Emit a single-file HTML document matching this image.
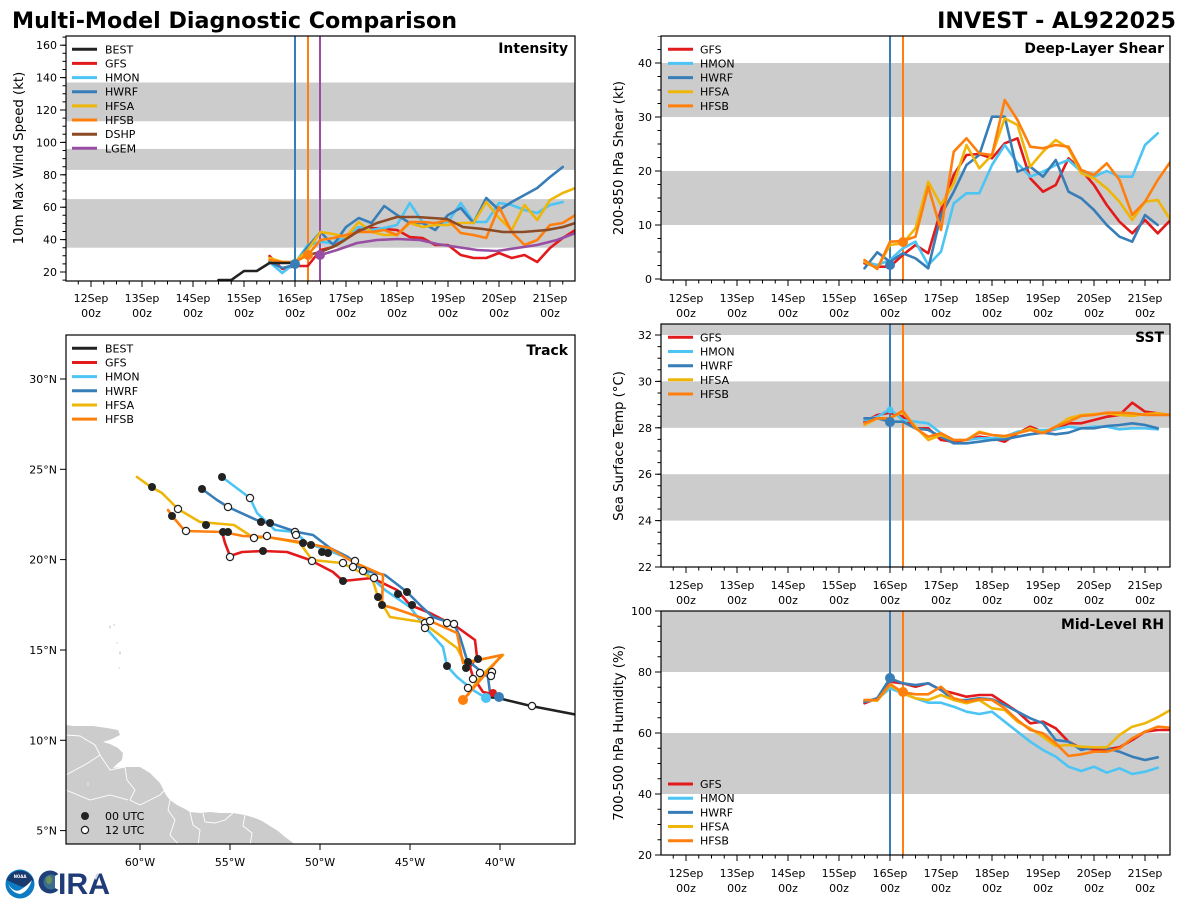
<!DOCTYPE html>
<html><head><meta charset="utf-8"><style>
html,body{margin:0;padding:0;background:#fff;}
svg{display:block;font-family:"DejaVu Sans","Liberation Sans",sans-serif;}
.tl{font-size:11px;fill:#000;}
.lg{font-size:11px;fill:#000;}
.yl{font-size:13.3px;fill:#000;}
.pt{font-size:13.9px;font-weight:bold;fill:#000;}
.s{fill:none;stroke-width:2.6;stroke-linejoin:round;stroke-linecap:round;}
</style></head><body>
<svg width="1200" height="900" viewBox="0 0 1200 900" xmlns="http://www.w3.org/2000/svg">
<defs>
<clipPath id="c1"><rect x="66" y="36" width="509" height="245"/></clipPath>
<clipPath id="c2"><rect x="661" y="36" width="509" height="244"/></clipPath>
<clipPath id="c3"><rect x="66" y="335" width="509" height="509"/></clipPath>
<clipPath id="c4"><rect x="661" y="324" width="509" height="243"/></clipPath>
<clipPath id="c5"><rect x="661" y="611" width="509" height="244"/></clipPath>
</defs>
<rect width="1200" height="900" fill="#fff"/>

<!-- Titles -->
<text x="12" y="28" style="font-size:22.2px;font-weight:bold">Multi-Model Diagnostic Comparison</text>
<text x="1176" y="28" text-anchor="end" style="font-size:22.2px;font-weight:bold">INVEST - AL922025</text>

<!-- ============ INTENSITY PANEL ============ -->
<g>
<rect x="66" y="199.1" width="509" height="48.6" fill="#cccccc"/>
<rect x="66" y="148.9" width="509" height="21" fill="#cccccc"/>
<rect x="66" y="82.5" width="509" height="38.8" fill="#cccccc"/>
<g clip-path="url(#c1)">
<line x1="295" y1="36" x2="295" y2="281" stroke="#377eb8" stroke-width="2"/>
<line x1="308" y1="36" x2="308" y2="281" stroke="#ff7f0e" stroke-width="2"/>
<line x1="320" y1="36" x2="320" y2="281" stroke="#984ea3" stroke-width="2"/>
<polyline class="s" stroke="#e31a1c" points="269.5,256 282.25,269 295,266 307.75,266 320.5,250 333.25,247 346,238 358.75,230 371.5,228 384.25,229 397,230 409.75,237 422.5,238 435.25,245 448,245 460.75,255 473.5,258 486.25,258 499,253 511.75,258 524.5,255 537.25,262 550,248 562.75,238 575.5,230"/>
<polyline class="s" stroke="#4cc4f4" points="269.5,262 282.25,273 295,263 307.75,245 320.5,242 333.25,243 346,237 358.75,227 371.5,230 384.25,228 397,225 409.75,203 422.5,222 435.25,223 448,222 460.75,203 473.5,222 486.25,222 499,203 511.75,205 524.5,210 537.25,213 550,205 562.75,202"/>
<polyline class="s" stroke="#377eb8" points="269.5,262 282.25,268 295,265 307.75,247 320.5,232 333.25,245 346,227 358.75,218 371.5,223 384.25,206 397,215 409.75,223 422.5,223 435.25,230 448,215 460.75,208 473.5,223 486.25,198 499,210 511.75,202 524.5,195 537.25,188 550,177 562.75,167"/>
<polyline class="s" stroke="#efb508" points="269.5,258 282.25,262 295,262 307.75,250 320.5,232 333.25,234 346,237 358.75,222 371.5,232 384.25,235 397,235 409.75,223 422.5,227 435.25,225 448,225 460.75,223 473.5,223 486.25,202 499,218 511.75,230 524.5,205 537.25,220 550,200 562.75,193 575.5,188"/>
<polyline class="s" stroke="#ff7f0e" points="269.5,260 282.25,262 295,262 307.75,255 320.5,240 333.25,238 346,235 358.75,232 371.5,232 384.25,230 397,235 409.75,222 422.5,222 435.25,223 448,220 460.75,233 473.5,235 486.25,238 499,207 511.75,232 524.5,245 537.25,240 550,225 562.75,223 575.5,215"/>
<polyline class="s" stroke="#8c4a25" points="307.75,255 320.5,252 337,245 357,232 377,223 397,217 417,217 447,219 463,227 483,229 503,232 523,232 547,230 563,227 575.5,223"/>
<polyline class="s" stroke="#984ea3" points="320.5,255 337,250 357,243 377,240 397,239 420,240 437,244 457,247 477,250 497,251 517,248 537,245 557,240 575.5,233"/>
<polyline class="s" stroke="#222" points="218.5,280 231.25,280 244,271 256.75,271 269.5,263 282.25,263 295,263"/>
<circle cx="295" cy="264" r="5" fill="#377eb8"/>
<circle cx="308" cy="255" r="5" fill="#ff7f0e"/>
<circle cx="320" cy="255" r="5" fill="#984ea3"/>
</g>
<!-- ticks -->
<line x1="64.25" y1="280.6" x2="64.25" y2="36" stroke="#000" stroke-width="3.5" stroke-dasharray="1 7.1"/>
<line x1="77.75" y1="282.75" x2="575" y2="282.75" stroke="#000" stroke-width="3.5" stroke-dasharray="1 11.75"/>
<g stroke="#000" stroke-width="1">
<line x1="60" y1="272" x2="66" y2="272"/><line x1="60" y1="239.6" x2="66" y2="239.6"/><line x1="60" y1="207.2" x2="66" y2="207.2"/><line x1="60" y1="174.8" x2="66" y2="174.8"/><line x1="60" y1="142.4" x2="66" y2="142.4"/><line x1="60" y1="110" x2="66" y2="110"/><line x1="60" y1="77.6" x2="66" y2="77.6"/><line x1="60" y1="45.2" x2="66" y2="45.2"/>
<line x1="91" y1="281" x2="91" y2="287"/><line x1="142" y1="281" x2="142" y2="287"/><line x1="193" y1="281" x2="193" y2="287"/><line x1="244" y1="281" x2="244" y2="287"/><line x1="295" y1="281" x2="295" y2="287"/><line x1="346" y1="281" x2="346" y2="287"/><line x1="397" y1="281" x2="397" y2="287"/><line x1="448" y1="281" x2="448" y2="287"/><line x1="499" y1="281" x2="499" y2="287"/><line x1="550" y1="281" x2="550" y2="287"/>
</g>
<g class="tl" text-anchor="end">
<text x="57" y="276">20</text><text x="57" y="243.6">40</text><text x="57" y="211.2">60</text><text x="57" y="178.8">80</text><text x="57" y="146.4">100</text><text x="57" y="114">120</text><text x="57" y="81.6">140</text><text x="57" y="49.2">160</text>
</g>
<g class="tl" text-anchor="middle">
<text x="91" y="302">12Sep</text><text x="142" y="302">13Sep</text><text x="193" y="302">14Sep</text><text x="244" y="302">15Sep</text><text x="295" y="302">16Sep</text><text x="346" y="302">17Sep</text><text x="397" y="302">18Sep</text><text x="448" y="302">19Sep</text><text x="499" y="302">20Sep</text><text x="550" y="302">21Sep</text>
<text x="91" y="317">00z</text><text x="142" y="317">00z</text><text x="193" y="317">00z</text><text x="244" y="317">00z</text><text x="295" y="317">00z</text><text x="346" y="317">00z</text><text x="397" y="317">00z</text><text x="448" y="317">00z</text><text x="499" y="317">00z</text><text x="550" y="317">00z</text>
</g>
<text class="yl" transform="translate(23,158) rotate(-90)" text-anchor="middle">10m Max Wind Speed (kt)</text>
<text class="pt" x="568" y="53" text-anchor="end">Intensity</text>
<!-- legend -->
<g stroke-width="3">
<line x1="72" y1="49.3" x2="97" y2="49.3" stroke="#222"/>
<line x1="72" y1="63.4" x2="97" y2="63.4" stroke="#e31a1c"/>
<line x1="72" y1="77.6" x2="97" y2="77.6" stroke="#4cc4f4"/>
<line x1="72" y1="91.7" x2="97" y2="91.7" stroke="#377eb8"/>
<line x1="72" y1="105.9" x2="97" y2="105.9" stroke="#efb508"/>
<line x1="72" y1="120" x2="97" y2="120" stroke="#ff7f0e"/>
<line x1="72" y1="134.2" x2="97" y2="134.2" stroke="#8c4a25"/>
<line x1="72" y1="148.3" x2="97" y2="148.3" stroke="#984ea3"/>
</g>
<g class="lg">
<text x="105" y="53.3">BEST</text><text x="105" y="67.4">GFS</text><text x="105" y="81.6">HMON</text><text x="105" y="95.7">HWRF</text><text x="105" y="109.9">HFSA</text><text x="105" y="124">HFSB</text><text x="105" y="138.2">DSHP</text><text x="105" y="152.3">LGEM</text>
</g>
<rect x="66" y="36" width="509" height="245" fill="none" stroke="#000" stroke-width="1.2"/>
</g>

<!-- ============ SHEAR PANEL ============ -->
<g>
<rect x="661" y="171" width="509" height="54" fill="#cccccc"/>
<rect x="661" y="63" width="509" height="54" fill="#cccccc"/>
<g clip-path="url(#c2)">
<line x1="890" y1="36" x2="890" y2="280" stroke="#377eb8" stroke-width="2"/>
<line x1="903" y1="36" x2="903" y2="280" stroke="#ff7f0e" stroke-width="2"/>
<polyline class="s" stroke="#e31a1c" points="864.5,263.3 877.25,266.7 890,266.7 902.75,255 915.5,245 928.25,253.3 941,210 953.75,175 966.5,155 979.25,154 992,158.3 1004.75,143.3 1017.5,138.3 1030.25,178.3 1043,191.7 1055.75,185 1068.5,158.3 1081.25,170 1094,185 1106.75,205 1119.5,221.7 1132.25,233.3 1145,220 1157.75,233.3 1170.5,220"/>
<polyline class="s" stroke="#4cc4f4" points="864.5,261.7 877.25,265 890,260 902.75,248.3 915.5,241.7 928.25,265 941,251.7 953.75,203.3 966.5,193.3 979.25,193.3 992,165 1004.75,145 1017.5,163.3 1030.25,176.7 1043,171.7 1055.75,165 1068.5,160 1081.25,171.7 1094,176.7 1106.75,171 1119.5,176.7 1132.25,176.7 1145,145 1157.75,133.3"/>
<polyline class="s" stroke="#377eb8" points="864.5,268.3 877.25,252.3 890,261.7 902.75,253.3 915.5,258.3 928.25,268.3 941,215 953.75,191.7 966.5,165 979.25,155 992,116.7 1004.75,116.7 1017.5,171.7 1030.25,166.7 1043,176.7 1055.75,160 1068.5,191.7 1081.25,198.3 1094,210 1106.75,225 1119.5,236.7 1132.25,241.7 1145,215 1157.75,225"/>
<polyline class="s" stroke="#efb508" points="864.5,261.7 877.25,268.3 890,245 902.75,243.3 915.5,228.3 928.25,181.7 941,205 953.75,183.3 966.5,145 979.25,168.3 992,155 1004.75,118.3 1017.5,125 1030.25,166.7 1043,151.7 1055.75,140 1068.5,148.3 1081.25,173.3 1094,178.3 1106.75,188.3 1119.5,201.7 1132.25,220 1145,201.7 1157.75,200 1170.5,220"/>
<polyline class="s" stroke="#ff7f0e" points="864.5,260 877.25,269 890,241.7 902.75,241 915.5,236.7 928.25,186.7 941,230 953.75,151.7 966.5,138.3 979.25,153.3 992,155 1004.75,100 1017.5,120 1030.25,146.7 1043,148.3 1055.75,145 1068.5,146.7 1081.25,170 1094,175 1106.75,163.3 1119.5,180 1132.25,215 1145,201.7 1157.75,180 1170.5,161.7"/>
<circle cx="890" cy="265" r="5" fill="#377eb8"/>
<circle cx="903" cy="242" r="5" fill="#ff7f0e"/>
</g>
<line x1="659.25" y1="279.5" x2="659.25" y2="36" stroke="#000" stroke-width="3.5" stroke-dasharray="1 12.5"/>
<line x1="672.75" y1="281.75" x2="1170" y2="281.75" stroke="#000" stroke-width="3.5" stroke-dasharray="1 11.75"/>
<g stroke="#000" stroke-width="1">
<line x1="655" y1="279" x2="661" y2="279"/><line x1="655" y1="225" x2="661" y2="225"/><line x1="655" y1="171" x2="661" y2="171"/><line x1="655" y1="117" x2="661" y2="117"/><line x1="655" y1="63" x2="661" y2="63"/>
<line x1="686" y1="280" x2="686" y2="286"/><line x1="737" y1="280" x2="737" y2="286"/><line x1="788" y1="280" x2="788" y2="286"/><line x1="839" y1="280" x2="839" y2="286"/><line x1="890" y1="280" x2="890" y2="286"/><line x1="941" y1="280" x2="941" y2="286"/><line x1="992" y1="280" x2="992" y2="286"/><line x1="1043" y1="280" x2="1043" y2="286"/><line x1="1094" y1="280" x2="1094" y2="286"/><line x1="1145" y1="280" x2="1145" y2="286"/>
</g>
<g class="tl" text-anchor="end">
<text x="652" y="283">0</text><text x="652" y="229">10</text><text x="652" y="175">20</text><text x="652" y="121">30</text><text x="652" y="67">40</text>
</g>
<g class="tl" text-anchor="middle">
<text x="686" y="302">12Sep</text><text x="737" y="302">13Sep</text><text x="788" y="302">14Sep</text><text x="839" y="302">15Sep</text><text x="890" y="302">16Sep</text><text x="941" y="302">17Sep</text><text x="992" y="302">18Sep</text><text x="1043" y="302">19Sep</text><text x="1094" y="302">20Sep</text><text x="1145" y="302">21Sep</text>
<text x="686" y="317">00z</text><text x="737" y="317">00z</text><text x="788" y="317">00z</text><text x="839" y="317">00z</text><text x="890" y="317">00z</text><text x="941" y="317">00z</text><text x="992" y="317">00z</text><text x="1043" y="317">00z</text><text x="1094" y="317">00z</text><text x="1145" y="317">00z</text>
</g>
<text class="yl" transform="translate(623,158) rotate(-90)" text-anchor="middle">200-850 hPa Shear (kt)</text>
<text class="pt" x="1164" y="53" text-anchor="end">Deep-Layer Shear</text>
<g stroke-width="3">
<line x1="668" y1="49.3" x2="693" y2="49.3" stroke="#e31a1c"/>
<line x1="668" y1="63.4" x2="693" y2="63.4" stroke="#4cc4f4"/>
<line x1="668" y1="77.6" x2="693" y2="77.6" stroke="#377eb8"/>
<line x1="668" y1="91.7" x2="693" y2="91.7" stroke="#efb508"/>
<line x1="668" y1="105.9" x2="693" y2="105.9" stroke="#ff7f0e"/>
</g>
<g class="lg">
<text x="700" y="53.3">GFS</text><text x="700" y="67.4">HMON</text><text x="700" y="81.6">HWRF</text><text x="700" y="95.7">HFSA</text><text x="700" y="109.9">HFSB</text>
</g>
<rect x="661" y="36" width="509" height="244" fill="none" stroke="#000" stroke-width="1.2"/>
</g>

<!-- ============ TRACK PANEL ============ -->
<g>
<g clip-path="url(#c3)">
<polygon fill="#cccccc" points="66,725 73,726 80,726 93,726 100,727 107,728 118,730 120,735 112,739 103,742 110,744 118,748 123,753 122,760 116,765 113,768 125,767 140,767 145,770 150,773 155,778 160,783 163,789 166,795 170,800 177,805 185,809 190,812 200,813 210,812 220,813 233,813 245,815 255,818 262,821 270,826 278,831 285,837 292,842 296,846 66,846"/>
<g fill="none" stroke="#fff" stroke-width="0.9">
<polyline points="66,735 80,736 95,745 100,755 88,763 66,775"/>
<polyline points="125,767 127,780 135,790 130,800 140,805 150,800 160,795 165,790"/>
<polyline points="170,800 168,810 175,820 170,835 180,846"/>
<polyline points="190,812 193,825 200,830 198,846"/>
<polyline points="203,813 205,822 215,823 225,820 233,813"/>
<polyline points="245,815 243,826 252,833 250,846"/>
<polyline points="100,755 110,770 125,767"/>
<polyline points="66,790 90,800 110,795 128,800"/>
</g>
<g fill="#dcdcdc">
<ellipse cx="110" cy="627" rx="1" ry="1.6"/><ellipse cx="114" cy="625" rx="0.8" ry="1.2"/>
<ellipse cx="120" cy="653" rx="1" ry="1.8"/><ellipse cx="117" cy="643" rx="0.7" ry="1"/>
<ellipse cx="119" cy="668" rx="0.7" ry="1"/>
<ellipse cx="88" cy="784" rx="1.2" ry="2"/>
</g>
<!-- tracks -->
<polyline class="s" stroke="#e31a1c" points="222,532 225,543 230,556 242,552 263,551 287,552 310,560 333,572 343,581 372,578 397,590 410,605 430,613 457,627 475,640 477,657 470,667 473,677 483,692 497,695"/>
<polyline class="s" stroke="#4cc4f4" points="222,477 250,498 257,513 275,530 295,532 307,543 327,550 353,560 372,578 385,590 410,607 425,627 443,647 447,666 457,677 473,690 486,698"/>
<polyline class="s" stroke="#377eb8" points="202,489 217,500 228,507 261,522 270,523 297,532 313,535 330,548 348,557 362,570 385,575 407,592 423,608 433,617 454,624 460,637 467,660 488,677 490,693 499,697"/>
<polyline class="s" stroke="#efb508" points="137,477 151,487 162,493 178,509 200,522 234,525 254,538 267,537 300,543 312,560 342,563 372,578 378,597 390,617 422,622 457,648 465,663 503,655 480,677 468,695"/>
<polyline class="s" stroke="#ff7f0e" points="168,510 173,517 185,531 223,532 243,536 267,537 300,542 330,548 353,562 383,575 382,605 393,608 428,620 457,633 463,663 502,655 463,700"/>
<polyline class="s" stroke="#222" points="578,715 531,706 498,698 486,697"/>
<!-- 00 UTC dots -->
<g fill="#222">
<circle cx="152" cy="487" r="4"/><circle cx="202" cy="489" r="4"/><circle cx="222" cy="477" r="4"/><circle cx="172" cy="516" r="4"/><circle cx="206" cy="525" r="4"/><circle cx="261" cy="522" r="4"/><circle cx="270" cy="523" r="4"/><circle cx="223" cy="532" r="4"/><circle cx="228" cy="532" r="4"/><circle cx="263" cy="551" r="4"/><circle cx="303" cy="543" r="4"/><circle cx="311" cy="545" r="4"/><circle cx="322" cy="552" r="4"/><circle cx="328" cy="553" r="4"/><circle cx="343" cy="581" r="4"/><circle cx="378" cy="597" r="4"/><circle cx="382" cy="605" r="4"/><circle cx="398" cy="594" r="4"/><circle cx="407" cy="592" r="4"/><circle cx="412" cy="605" r="4"/><circle cx="447" cy="666" r="4"/><circle cx="466" cy="668" r="4"/><circle cx="468" cy="662" r="4"/><circle cx="478" cy="659" r="4"/>
</g>
<!-- 12 UTC circles -->
<g fill="#fff" stroke="#222" stroke-width="1.2">
<circle cx="178" cy="509" r="3.6"/><circle cx="186" cy="531" r="3.6"/><circle cx="228" cy="507" r="3.6"/><circle cx="250" cy="498" r="3.6"/><circle cx="230" cy="557" r="3.6"/><circle cx="254" cy="538" r="3.6"/><circle cx="267" cy="536" r="3.6"/><circle cx="295" cy="532" r="3.6"/><circle cx="296" cy="535" r="3.6"/><circle cx="312" cy="561" r="3.6"/><circle cx="343" cy="563" r="3.6"/><circle cx="355" cy="561" r="3.6"/><circle cx="353" cy="567" r="3.6"/><circle cx="363" cy="571" r="3.6"/><circle cx="374" cy="578" r="3.6"/><circle cx="425" cy="623" r="3.6"/><circle cx="430" cy="621" r="3.6"/><circle cx="425" cy="628" r="3.6"/><circle cx="447" cy="623" r="3.6"/><circle cx="454" cy="624" r="3.6"/><circle cx="468" cy="688" r="3.6"/><circle cx="473" cy="679" r="3.6"/><circle cx="480" cy="673" r="3.6"/><circle cx="492" cy="672" r="3.6"/><circle cx="491" cy="676" r="3.6"/><circle cx="532" cy="706" r="3.6"/>
</g>
<circle cx="493" cy="693" r="4" fill="#e31a1c"/>
<circle cx="463" cy="700" r="5" fill="#ff7f0e"/>
<circle cx="486" cy="698" r="5" fill="#4cc4f4"/>
<circle cx="499" cy="697" r="5" fill="#377eb8"/>
</g>
<!-- axes ticks -->
<g stroke="#000" stroke-width="1">
<line x1="60" y1="379" x2="66" y2="379"/><line x1="60" y1="469.3" x2="66" y2="469.3"/><line x1="60" y1="559.6" x2="66" y2="559.6"/><line x1="60" y1="650" x2="66" y2="650"/><line x1="60" y1="740.3" x2="66" y2="740.3"/><line x1="60" y1="830.6" x2="66" y2="830.6"/>
<line x1="140" y1="844" x2="140" y2="850"/><line x1="230" y1="844" x2="230" y2="850"/><line x1="320" y1="844" x2="320" y2="850"/><line x1="410" y1="844" x2="410" y2="850"/><line x1="500" y1="844" x2="500" y2="850"/>
</g>
<g class="tl" text-anchor="end">
<text x="57" y="383">30°N</text><text x="57" y="473.3">25°N</text><text x="57" y="563.6">20°N</text><text x="57" y="654">15°N</text><text x="57" y="744.3">10°N</text><text x="57" y="834.6">5°N</text>
</g>
<g class="tl" text-anchor="middle">
<text x="140" y="866">60°W</text><text x="230" y="866">55°W</text><text x="320" y="866">50°W</text><text x="410" y="866">45°W</text><text x="500" y="866">40°W</text>
</g>
<text class="pt" x="568" y="355" text-anchor="end">Track</text>
<g stroke-width="3">
<line x1="72" y1="348.3" x2="97" y2="348.3" stroke="#222"/>
<line x1="72" y1="362.5" x2="97" y2="362.5" stroke="#e31a1c"/>
<line x1="72" y1="376.6" x2="97" y2="376.6" stroke="#4cc4f4"/>
<line x1="72" y1="390.8" x2="97" y2="390.8" stroke="#377eb8"/>
<line x1="72" y1="405" x2="97" y2="405" stroke="#efb508"/>
<line x1="72" y1="419.1" x2="97" y2="419.1" stroke="#ff7f0e"/>
</g>
<g class="lg">
<text x="105" y="352.3">BEST</text><text x="105" y="366.5">GFS</text><text x="105" y="380.6">HMON</text><text x="105" y="394.8">HWRF</text><text x="105" y="409">HFSA</text><text x="105" y="423.1">HFSB</text>
</g>
<circle cx="85" cy="816" r="4" fill="#222"/>
<circle cx="85" cy="830" r="3.6" fill="#fff" stroke="#222" stroke-width="1.2"/>
<g class="lg"><text x="105" y="820">00 UTC</text><text x="105" y="834">12 UTC</text></g>
<rect x="66" y="335" width="509" height="509" fill="none" stroke="#000" stroke-width="1.2"/>
</g>

<!-- ============ SST PANEL ============ -->
<g>
<rect x="661" y="474.2" width="509" height="46.4" fill="#cccccc"/>
<rect x="661" y="381.4" width="509" height="46.4" fill="#cccccc"/>
<rect x="661" y="324" width="509" height="11" fill="#cccccc"/>
<g clip-path="url(#c4)">
<line x1="890" y1="324" x2="890" y2="567" stroke="#377eb8" stroke-width="2"/>
<line x1="903" y1="324" x2="903" y2="567" stroke="#ff7f0e" stroke-width="2"/>
<polyline class="s" stroke="#e31a1c" points="864.5,421.7 877.25,415 890,412.7 902.75,416.7 915.5,428.3 928.25,428.3 941,440 953.75,441.7 966.5,440 979.25,436.7 992,438.3 1004.75,441.7 1017.5,433.3 1030.25,426.7 1043,431.7 1055.75,429.3 1068.5,423.3 1081.25,423.3 1094,420 1106.75,416.7 1119.5,415 1132.25,402.7 1145,411.7 1157.75,413.3 1170.5,415"/>
<polyline class="s" stroke="#4cc4f4" points="864.5,420 877.25,416.7 890,409.3 902.75,420 915.5,421.7 928.25,423.3 941,433.3 953.75,440 966.5,440 979.25,438.3 992,438.3 1004.75,436.7 1017.5,431.7 1030.25,430 1043,430 1055.75,429.3 1068.5,426.7 1081.25,428.3 1094,426.7 1106.75,426.7 1119.5,429.3 1132.25,428.3 1145,428.3 1157.75,429.3"/>
<polyline class="s" stroke="#377eb8" points="864.5,418.3 877.25,418.3 890,421.7 902.75,421.7 915.5,428.3 928.25,430 941,436.7 953.75,443.3 966.5,443.3 979.25,441.7 992,440 1004.75,439.3 1017.5,436.7 1030.25,434.3 1043,432.7 1055.75,434.3 1068.5,432.7 1081.25,428.3 1094,428.3 1106.75,426 1119.5,425 1132.25,423.3 1145,425 1157.75,428.3"/>
<polyline class="s" stroke="#efb508" points="864.5,425 877.25,418.3 890,418.3 902.75,411.7 915.5,426.7 928.25,440 941,435 953.75,440 966.5,440 979.25,431.7 992,435 1004.75,436.7 1017.5,433.3 1030.25,428.3 1043,432.7 1055.75,426.7 1068.5,418.3 1081.25,415 1094,414 1106.75,413.3 1119.5,415 1132.25,416 1145,414 1157.75,413.3 1170.5,415"/>
<polyline class="s" stroke="#ff7f0e" points="864.5,423.3 877.25,418.3 890,418.3 902.75,410.7 915.5,428.3 928.25,436.7 941,433.3 953.75,440 966.5,440 979.25,432.7 992,435 1004.75,436 1017.5,433.3 1030.25,430 1043,433.3 1055.75,426.7 1068.5,421.7 1081.25,416 1094,415 1106.75,412.7 1119.5,412.7 1132.25,413.3 1145,415 1157.75,415 1170.5,415"/>
<circle cx="890" cy="410" r="3.5" fill="#4cc4f4"/>
<circle cx="890" cy="422" r="5" fill="#377eb8"/>
</g>
<line x1="659.25" y1="567.5" x2="659.25" y2="324" stroke="#000" stroke-width="3.5" stroke-dasharray="1 10.6"/>
<line x1="672.75" y1="568.75" x2="1170" y2="568.75" stroke="#000" stroke-width="3.5" stroke-dasharray="1 11.75"/>
<g stroke="#000" stroke-width="1">
<line x1="655" y1="567" x2="661" y2="567"/><line x1="655" y1="520.6" x2="661" y2="520.6"/><line x1="655" y1="474.2" x2="661" y2="474.2"/><line x1="655" y1="427.8" x2="661" y2="427.8"/><line x1="655" y1="381.4" x2="661" y2="381.4"/><line x1="655" y1="335" x2="661" y2="335"/>
<line x1="686" y1="567" x2="686" y2="573"/><line x1="737" y1="567" x2="737" y2="573"/><line x1="788" y1="567" x2="788" y2="573"/><line x1="839" y1="567" x2="839" y2="573"/><line x1="890" y1="567" x2="890" y2="573"/><line x1="941" y1="567" x2="941" y2="573"/><line x1="992" y1="567" x2="992" y2="573"/><line x1="1043" y1="567" x2="1043" y2="573"/><line x1="1094" y1="567" x2="1094" y2="573"/><line x1="1145" y1="567" x2="1145" y2="573"/>
</g>
<g class="tl" text-anchor="end">
<text x="652" y="571">22</text><text x="652" y="524.6">24</text><text x="652" y="478.2">26</text><text x="652" y="431.8">28</text><text x="652" y="385.4">30</text><text x="652" y="339">32</text>
</g>
<g class="tl" text-anchor="middle">
<text x="686" y="589">12Sep</text><text x="737" y="589">13Sep</text><text x="788" y="589">14Sep</text><text x="839" y="589">15Sep</text><text x="890" y="589">16Sep</text><text x="941" y="589">17Sep</text><text x="992" y="589">18Sep</text><text x="1043" y="589">19Sep</text><text x="1094" y="589">20Sep</text><text x="1145" y="589">21Sep</text>
<text x="686" y="604">00z</text><text x="737" y="604">00z</text><text x="788" y="604">00z</text><text x="839" y="604">00z</text><text x="890" y="604">00z</text><text x="941" y="604">00z</text><text x="992" y="604">00z</text><text x="1043" y="604">00z</text><text x="1094" y="604">00z</text><text x="1145" y="604">00z</text>
</g>
<text class="yl" transform="translate(623,446) rotate(-90)" text-anchor="middle">Sea Surface Temp (°C)</text>
<text class="pt" x="1164" y="342" text-anchor="end">SST</text>
<g stroke-width="3">
<line x1="668" y1="337.3" x2="693" y2="337.3" stroke="#e31a1c"/>
<line x1="668" y1="351.5" x2="693" y2="351.5" stroke="#4cc4f4"/>
<line x1="668" y1="365.7" x2="693" y2="365.7" stroke="#377eb8"/>
<line x1="668" y1="379.8" x2="693" y2="379.8" stroke="#efb508"/>
<line x1="668" y1="394" x2="693" y2="394" stroke="#ff7f0e"/>
</g>
<g class="lg">
<text x="700" y="341.3">GFS</text><text x="700" y="355.5">HMON</text><text x="700" y="369.7">HWRF</text><text x="700" y="383.8">HFSA</text><text x="700" y="398">HFSB</text>
</g>
<rect x="661" y="324" width="509" height="243" fill="none" stroke="#000" stroke-width="1.2"/>
</g>

<!-- ============ RH PANEL ============ -->
<g>
<rect x="661" y="733" width="509" height="61" fill="#cccccc"/>
<rect x="661" y="611" width="509" height="61" fill="#cccccc"/>
<g clip-path="url(#c5)">
<line x1="890" y1="611" x2="890" y2="855" stroke="#377eb8" stroke-width="2"/>
<line x1="903" y1="611" x2="903" y2="855" stroke="#ff7f0e" stroke-width="2"/>
<polyline class="s" stroke="#e31a1c" points="864.5,703.3 877.25,698.3 890,681.7 902.75,683.3 915.5,686.7 928.25,683.3 941,690 953.75,693.3 966.5,696.7 979.25,695 992,695 1004.75,703.3 1017.5,711.7 1030.25,723.3 1043,721.7 1055.75,728.3 1068.5,741.7 1081.25,748.3 1094,749.3 1106.75,749.3 1119.5,747.3 1132.25,740 1145,731.7 1157.75,730 1170.5,730"/>
<polyline class="s" stroke="#4cc4f4" points="864.5,701.7 877.25,699.3 890,688.3 902.75,693.3 915.5,698.3 928.25,702.7 941,702.7 953.75,706.7 966.5,711.7 979.25,714 992,711.7 1004.75,721.7 1017.5,731.7 1030.25,741.7 1043,750 1055.75,756.7 1068.5,766.7 1081.25,771 1094,766.7 1106.75,772.7 1119.5,768.3 1132.25,774 1145,771.7 1157.75,767.7"/>
<polyline class="s" stroke="#377eb8" points="864.5,701.7 877.25,698.3 890,678.3 902.75,683.3 915.5,685 928.25,683.3 941,690 953.75,700 966.5,700 979.25,698.3 992,699.3 1004.75,705 1017.5,711.7 1030.25,718.3 1043,723.3 1055.75,740 1068.5,741.7 1081.25,750 1094,747.3 1106.75,748.3 1119.5,751.7 1132.25,756.7 1145,760 1157.75,757.3"/>
<polyline class="s" stroke="#efb508" points="864.5,700 877.25,700.7 890,685 902.75,693.3 915.5,698.3 928.25,700 941,695 953.75,700 966.5,703.3 979.25,700 992,708.3 1004.75,710 1017.5,721.7 1030.25,728.3 1043,736.7 1055.75,746 1068.5,745 1081.25,746.7 1094,747.3 1106.75,747.3 1119.5,735 1132.25,726.7 1145,723.3 1157.75,717.3 1170.5,710"/>
<polyline class="s" stroke="#ff7f0e" points="864.5,700 877.25,700 890,684 902.75,692.3 915.5,694.3 928.25,694.3 941,686.7 953.75,698.3 966.5,701.7 979.25,699.3 992,700 1004.75,708.3 1017.5,720 1030.25,730 1043,733.3 1055.75,743.3 1068.5,756 1081.25,754.3 1094,751.7 1106.75,751.7 1119.5,748.3 1132.25,738.3 1145,731.7 1157.75,726.7 1170.5,727.7"/>
<circle cx="890" cy="678" r="5" fill="#377eb8"/>
<circle cx="903" cy="692" r="5" fill="#ff7f0e"/>
</g>
<line x1="659.25" y1="855.5" x2="659.25" y2="611" stroke="#000" stroke-width="3.5" stroke-dasharray="1 14.25"/>
<line x1="672.75" y1="856.75" x2="1170" y2="856.75" stroke="#000" stroke-width="3.5" stroke-dasharray="1 11.75"/>
<g stroke="#000" stroke-width="1">
<line x1="655" y1="855" x2="661" y2="855"/><line x1="655" y1="794" x2="661" y2="794"/><line x1="655" y1="733" x2="661" y2="733"/><line x1="655" y1="672" x2="661" y2="672"/><line x1="655" y1="611" x2="661" y2="611"/>
<line x1="686" y1="855" x2="686" y2="861"/><line x1="737" y1="855" x2="737" y2="861"/><line x1="788" y1="855" x2="788" y2="861"/><line x1="839" y1="855" x2="839" y2="861"/><line x1="890" y1="855" x2="890" y2="861"/><line x1="941" y1="855" x2="941" y2="861"/><line x1="992" y1="855" x2="992" y2="861"/><line x1="1043" y1="855" x2="1043" y2="861"/><line x1="1094" y1="855" x2="1094" y2="861"/><line x1="1145" y1="855" x2="1145" y2="861"/>
</g>
<g class="tl" text-anchor="end">
<text x="652" y="859">20</text><text x="652" y="798">40</text><text x="652" y="737">60</text><text x="652" y="676">80</text><text x="652" y="615">100</text>
</g>
<g class="tl" text-anchor="middle">
<text x="686" y="877">12Sep</text><text x="737" y="877">13Sep</text><text x="788" y="877">14Sep</text><text x="839" y="877">15Sep</text><text x="890" y="877">16Sep</text><text x="941" y="877">17Sep</text><text x="992" y="877">18Sep</text><text x="1043" y="877">19Sep</text><text x="1094" y="877">20Sep</text><text x="1145" y="877">21Sep</text>
<text x="686" y="892">00z</text><text x="737" y="892">00z</text><text x="788" y="892">00z</text><text x="839" y="892">00z</text><text x="890" y="892">00z</text><text x="941" y="892">00z</text><text x="992" y="892">00z</text><text x="1043" y="892">00z</text><text x="1094" y="892">00z</text><text x="1145" y="892">00z</text>
</g>
<text class="yl" transform="translate(623,733) rotate(-90)" text-anchor="middle">700-500 hPa Humidity (%)</text>
<text class="pt" x="1164" y="629" text-anchor="end">Mid-Level RH</text>
<g stroke-width="3">
<line x1="668" y1="784" x2="693" y2="784" stroke="#e31a1c"/>
<line x1="668" y1="798.2" x2="693" y2="798.2" stroke="#4cc4f4"/>
<line x1="668" y1="812.4" x2="693" y2="812.4" stroke="#377eb8"/>
<line x1="668" y1="826.5" x2="693" y2="826.5" stroke="#efb508"/>
<line x1="668" y1="840.7" x2="693" y2="840.7" stroke="#ff7f0e"/>
</g>
<g class="lg">
<text x="700" y="788">GFS</text><text x="700" y="802.2">HMON</text><text x="700" y="816.4">HWRF</text><text x="700" y="830.5">HFSA</text><text x="700" y="844.7">HFSB</text>
</g>
<rect x="661" y="611" width="509" height="244" fill="none" stroke="#000" stroke-width="1.2"/>
</g>

<!-- ============ LOGOS ============ -->
<g>
<circle cx="20" cy="884" r="14.5" fill="#0b7cc4"/>
<path d="M6.5,880 A14.5,14.5 0 0 1 33.5,880 Q27,889 20,886 Q13,883 6.5,880 Z" fill="#1a3a6e"/>
<path d="M8,884 Q14,893 20,890 Q27,886 32,880 Q28,892 20,894 Q12,893 8,884 Z" fill="#fff"/>
<text x="20" y="878" text-anchor="middle" style="font-size:4px;fill:#fff;font-weight:bold">NOAA</text>
<circle cx="50" cy="882" r="11.5" fill="#1f3f7a"/>
<circle cx="51" cy="882" r="7.5" fill="#3b6d8f"/>
<ellipse cx="49" cy="880" rx="3" ry="4" fill="#6a8f5a"/>
<path d="M55,876 L62,872 L62,892 L55,888 Z" fill="#fff"/>
<text x="58" y="894" textLength="52" lengthAdjust="spacingAndGlyphs" style="font-family:'Liberation Sans',sans-serif;font-weight:bold;font-size:30px;fill:#1f3c78">IRA</text>
<path d="M92,875 L100,872 L96,880 Z" fill="#fff" opacity="0.8"/>
</g>
</svg>
</body></html>
